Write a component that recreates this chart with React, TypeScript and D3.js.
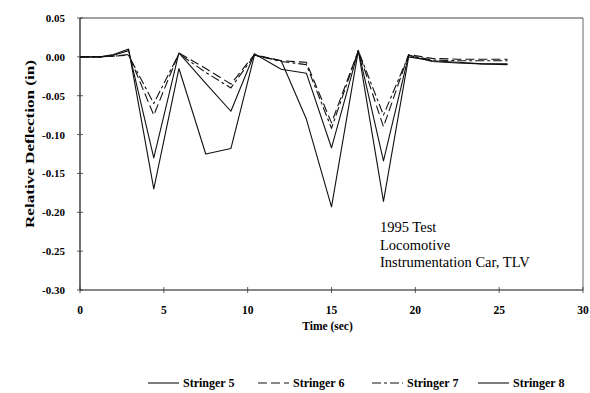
import React from 'react'
import * as d3 from 'd3'

// time points (sec)
const times = [0, 1.2, 2, 2.9, 4.4, 5.9, 7.5, 9.0, 10.4, 12.0, 13.5, 15.0, 16.6, 18.1, 19.6, 21, 22.5, 24, 25.5]

// relative deflection (in)
const stringer5 = [0, 0, 0.003, 0.01, -0.17, -0.015, -0.125, -0.118, 0.002, -0.005, -0.08, -0.193, 0.008, -0.186, 0.0, -0.005, -0.007, -0.009, -0.01]
const stringer6 = [0, 0, 0.001, 0.003, -0.075, 0.005, -0.015, -0.035, 0.003, -0.005, -0.007, -0.085, 0.008, -0.09, 0.003, -0.002, -0.003, -0.003, -0.003]
const stringer7 = [0, 0, 0.001, 0.002, -0.06, 0.004, -0.02, -0.04, 0.002, -0.006, -0.01, -0.092, 0.008, -0.075, 0.002, -0.004, -0.005, -0.005, -0.005]
const stringer8 = [0, 0, 0.002, 0.008, -0.13, 0.005, -0.034, -0.07, 0.004, -0.016, -0.021, -0.117, 0.008, -0.134, 0.002, -0.006, -0.008, -0.009, -0.009]

const seriesNames = ['Stringer 5', 'Stringer 6', 'Stringer 7', 'Stringer 8']
const seriesValues = [stringer5, stringer6, stringer7, stringer8]
const dashes = ['none', '9,4', '9,3,3,3', 'none']

const xTicks = [0, 5, 10, 15, 20, 25, 30]
const yTicks = [0.05, 0, -0.05, -0.1, -0.15, -0.2, -0.25, -0.3]
const note = ['1995 Test', 'Locomotive', 'Instrumentation Car, TLV']

const W = 590, H = 393
const left = 80, right = 583, top = 18, bottom = 290

export default function App() {
  const x = d3.scaleLinear().domain([0, 30]).range([left, right])
  const y = d3.scaleLinear().domain([-0.3, 0.05]).range([bottom, top])

  const line = d3.line<[number, number]>()
    .x(d => x(d[0]))
    .y(d => y(d[1]))

  const serif = '"Liberation Serif", "DejaVu Serif", serif'
  const legendX = [148, 258, 372, 478]

  return (
    <svg width={W} height={H} style={{ position: 'absolute', left: 0, top: 0, background: '#fff' }}
      fontFamily={serif}>
      {/* frame */}
      <line x1={left} x2={right} y1={top} y2={top} stroke="#444" strokeWidth={1.2} />
      <line x1={right} x2={right} y1={top} y2={bottom} stroke="#666" strokeWidth={1} />
      <line x1={left} x2={left} y1={top} y2={bottom} stroke="#111" strokeWidth={1.2} />
      <line x1={left} x2={right} y1={bottom} y2={bottom} stroke="#111" strokeWidth={1.2} />

      {/* y ticks */}
      {yTicks.map(t => (
        <g key={'y' + t}>
          <line x1={left - 3} x2={left + 3} y1={y(t)} y2={y(t)} stroke="#333" strokeWidth={0.8} />
          <text x={left - 15} y={y(t) + 4} textAnchor="end" fontSize={11} fontWeight="bold">
            {d3.format('.2f')(t).replace('−', '-')}
          </text>
        </g>
      ))}

      {/* x ticks */}
      {xTicks.map(t => (
        <g key={'x' + t}>
          <line x1={x(t)} x2={x(t)} y1={bottom - 3} y2={bottom + 3} stroke="#333" strokeWidth={0.8} />
          <text x={x(t)} y={314} textAnchor="middle" fontSize={11.5} fontWeight="bold">{t}</text>
        </g>
      ))}

      <text x={(left + right) / 2 - 4} y={330} textAnchor="middle" fontSize={11.5} fontWeight="bold">Time (sec)</text>
      <text transform={`translate(34,${144}) rotate(-90)`} textAnchor="middle"
        fontSize={12.5} fontWeight="bold" textLength={168} lengthAdjust="spacingAndGlyphs">Relative Deflection (in)</text>

      {/* series */}
      {seriesValues.map((vals, i) => (
        <path key={seriesNames[i]}
          d={line(times.map((t, j) => [t, vals[j]] as [number, number])) || ''}
          fill="none" stroke="#111" strokeWidth={1.1}
          strokeDasharray={dashes[i]} strokeLinejoin="round" />
      ))}

      {/* note */}
      {note.map((s, i) => (
        <text key={s} x={380} y={232 + i * 17.5} fontSize={14.5}>{s}</text>
      ))}

      {/* legend */}
      {seriesNames.map((s, i) => (
        <g key={'lg' + s}>
          <line x1={legendX[i]} x2={legendX[i] + 31} y1={383} y2={383} stroke="#111" strokeWidth={1.1}
            strokeDasharray={dashes[i]} />
          <text x={legendX[i] + 35} y={387} fontSize={12} fontWeight="bold">{s}</text>
        </g>
      ))}
    </svg>
  )
}
